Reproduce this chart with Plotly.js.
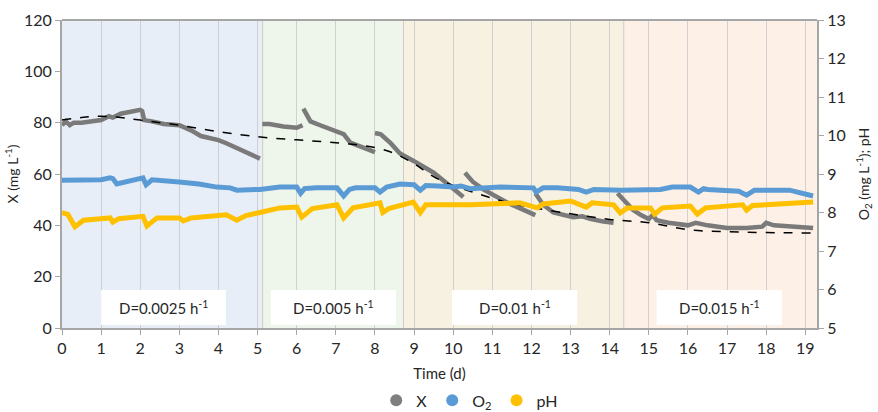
<!DOCTYPE html>
<html><head><meta charset="utf-8">
<script src="https://cdn.plot.ly/plotly-3.0.1.min.js"></script>
<style>html,body{margin:0;padding:0;background:#fff}#chart{width:878px;height:412px}</style>
</head><body><div id="chart"></div>
<script>
// Biomass X (mg/L), segments separated by null
const xDays = [0,0.1,0.2,0.3,0.5,0.8,1.0,1.2,1.3,1.5,1.8,2.0,2.05,2.1,2.3,2.6,3.0,3.3,3.55,3.8,4.0,4.2,4.55,4.8,5.06,null,
  5.12,5.3,5.66,5.9,6.0,6.15,null,
  6.17,6.25,6.35,6.6,7.03,7.2,7.37,7.7,8.0,null,
  8.0,8.15,8.4,8.64,9.0,9.23,9.5,9.74,10.0,10.26,null,
  10.3,10.5,10.77,11.0,11.4,11.8,12.1,null,
  12.1,12.3,12.56,12.8,13.07,13.3,13.5,13.84,14.1,null,
  14.2,14.4,14.6,14.8,15.0,15.1,15.2,15.5,16.0,16.2,16.5,17.0,17.5,17.9,18.0,18.2,18.6,19.2];
const xVals = [79,80.5,79,80,80,80.5,81,82.5,82,83.5,84.5,85,84.5,81,80.5,79.5,79,77,74.8,74,73.2,72,69.4,68,66,null,
  79.5,79.5,78.5,78.3,78,79,null,
  85.5,83,80.5,79,76.2,75.5,72.2,70.5,68.5,null,
  76,75.5,72,68,65,63,60.5,57.6,54.5,51,null,
  60.5,57,54,52,48.7,46,44,null,
  52.5,48,45,44,43.2,43.5,42.5,41.5,41,null,
  52.5,49,46,44,42.5,44,42,41,40,41,40,39,39,39.5,41,40,39.5,39];
// Fitted curve (dashed)
const fitDays = [0,0.5,1,1.5,2,3,4,5,6,7,8,8.5,9,9.5,10,10.5,11,11.5,12,13,14,15,16,17,18,19.2];
const fitVals = [81,82,82.5,82,81,79,76.5,74.5,73.3,72.2,70.3,68,64,59,55.5,53,50.5,48.5,47,44.5,42.3,41,38.3,37.5,37.2,37];
// Dissolved O2 (mg/L), right axis
const o2Days = [0,0.5,1.0,1.23,1.3,1.4,1.7,2.07,2.15,2.3,3.0,3.5,3.96,4.3,4.47,5.06,5.57,6.0,6.1,6.2,6.5,7.03,7.2,7.35,7.5,8.0,8.13,8.3,8.64,9.0,9.16,9.3,9.6,10.0,10.2,10.43,11.2,12.05,12.12,12.3,12.66,13.2,13.4,13.6,14.27,15.3,15.6,16.06,16.27,16.4,16.5,17.3,17.5,17.7,18.6,19.2];
const o2Vals = [8.84,8.85,8.85,8.9,8.88,8.74,8.8,8.9,8.72,8.85,8.79,8.74,8.66,8.64,8.58,8.6,8.66,8.66,8.5,8.62,8.64,8.64,8.43,8.6,8.64,8.64,8.53,8.66,8.74,8.72,8.58,8.7,8.69,8.66,8.69,8.62,8.66,8.64,8.53,8.64,8.64,8.6,8.53,8.6,8.58,8.6,8.66,8.66,8.53,8.62,8.6,8.55,8.45,8.58,8.58,8.43];
// pH, right axis
const phDays = [0,0.15,0.33,0.55,1.23,1.3,1.45,2.07,2.17,2.43,3.0,3.1,3.3,4.2,4.47,4.7,5.06,5.57,6.0,6.13,6.4,7.03,7.2,7.44,8.13,8.2,8.35,8.98,9.16,9.3,10.43,11.7,12.15,12.3,13.0,13.4,13.55,14.1,14.27,14.45,15.04,15.15,15.35,16.06,16.24,16.45,17.4,17.5,17.65,19.2];
const phVals = [8.0,7.95,7.63,7.8,7.86,7.75,7.84,7.9,7.65,7.86,7.86,7.78,7.86,7.94,7.8,7.92,8.0,8.12,8.14,7.88,8.1,8.2,7.86,8.12,8.25,8.0,8.1,8.27,8.0,8.2,8.2,8.25,8.12,8.22,8.3,8.14,8.25,8.2,7.99,8.12,8.12,7.96,8.12,8.17,7.96,8.12,8.2,8.06,8.18,8.27];
// Dilution-rate periods
const periodStart = [0,5.13,8.73,14.36];
const periodEnd = [5.13,8.73,14.36,19.3];
const periodColors = ['#E8EEF8','#EEF5EA','#F7F1E2','#FDF0E6'];
const labelX0 = [1.0,5.34,9.97,15.2];
const labelX1 = [4.19,8.54,13.17,18.4];
const labelText = ['D=0.0025 h<sup>-1</sup>','D=0.005 h<sup>-1</sup>','D=0.01 h<sup>-1</sup>','D=0.015 h<sup>-1</sup>'];
const legendNames = ['X','O<sub>2</sub>','pH'];
const seriesColors = ['#7F7F7F','#5B9BD5','#FFC000'];

const font = 'Lato, "Noto Sans", sans-serif';
const traces = [
  {x:o2Days,y:o2Vals,yaxis:'y2',mode:'lines',line:{color:'#5B9BD5',width:5},showlegend:false,hoverinfo:'skip'},
  {x:phDays,y:phVals,yaxis:'y2',mode:'lines',line:{color:'#FFC000',width:5},showlegend:false,hoverinfo:'skip'},
  {x:xDays,y:xVals,mode:'lines',connectgaps:false,line:{color:'#7A7A7A',width:4.5},showlegend:false,hoverinfo:'skip'},
  {x:fitDays,y:fitVals,mode:'lines',line:{color:'#000',width:1.5,dash:'dash',shape:'spline'},showlegend:false,hoverinfo:'skip'}
];
legendNames.forEach((n,i)=>traces.push({x:[null],y:[null],mode:'markers',name:n,marker:{color:seriesColors[i],size:12},yaxis: i===0?'y':'y2'}));

const shapes = [];
periodStart.forEach((s,i)=>shapes.push({type:'rect',xref:'x',yref:'paper',x0:s,x1:periodEnd[i],y0:0,y1:1,fillcolor:periodColors[i],line:{width:0},layer:'below'}));
periodStart.slice(1).forEach(s=>shapes.push({type:'line',xref:'x',yref:'paper',x0:s,x1:s,y0:0,y1:1,line:{color:'#D2CCC0',width:1},layer:'below'}));
const annotations = [];
labelX0.forEach((a,i)=>{
  shapes.push({type:'rect',xref:'x',yref:'y',x0:a,x1:labelX1[i],y0:1.2,y1:14.8,fillcolor:'#fff',line:{width:0},layer:'above'});
  annotations.push({x:(a+labelX1[i])/2,y:8,xref:'x',yref:'y',text:labelText[i],showarrow:false,font:{family:font,size:15,color:'#262626'}});
});

const layout = {
  width:878,height:412,margin:{l:62,r:61,t:20,b:84,autoexpand:false},
  paper_bgcolor:'#fff',plot_bgcolor:'rgba(0,0,0,0)',
  font:{family:font,size:16,color:'#262626'},
  xaxis:{range:[0,19.3],dtick:1,tick0:0,showgrid:true,gridcolor:'#D0D0D0',gridwidth:1,zeroline:false,
    showline:true,linecolor:'#A6A6A6',linewidth:2,mirror:false,ticks:'outside',ticklen:5,tickcolor:'#A6A6A6',
    title:{text:'Time (d)',font:{size:15},standoff:12},tickfont:{size:16}},
  yaxis:{range:[0,120],dtick:20,showgrid:false,zeroline:false,showline:true,linecolor:'#A6A6A6',linewidth:2,
    ticks:'outside',ticklen:5,tickcolor:'#A6A6A6',title:{text:'X (mg L<sup>-1</sup>)',font:{size:14},standoff:2},tickfont:{size:16}},
  yaxis2:{range:[5,13],dtick:1,overlaying:'y',side:'right',showgrid:false,zeroline:false,showline:true,linecolor:'#A6A6A6',linewidth:2,
    ticks:'outside',ticklen:5,tickcolor:'#A6A6A6',title:{text:'O<sub>2</sub> (mg L<sup>-1</sup>); pH',font:{size:14},standoff:14},tickfont:{size:16}},
  shapes:shapes,annotations:annotations,
  legend:{orientation:'h',x:0.54,xanchor:'center',y:-0.235,yanchor:'middle',font:{size:16},tracegroupgap:0},
  showlegend:true
};
layout.shapes.push({type:'line',xref:'paper',yref:'paper',x0:0,x1:1,y0:1,y1:1,line:{color:'#A6A6A6',width:2},layer:'above'});
Plotly.newPlot('chart',traces,layout,{displayModeBar:false,staticPlot:true});
</script></body></html>
